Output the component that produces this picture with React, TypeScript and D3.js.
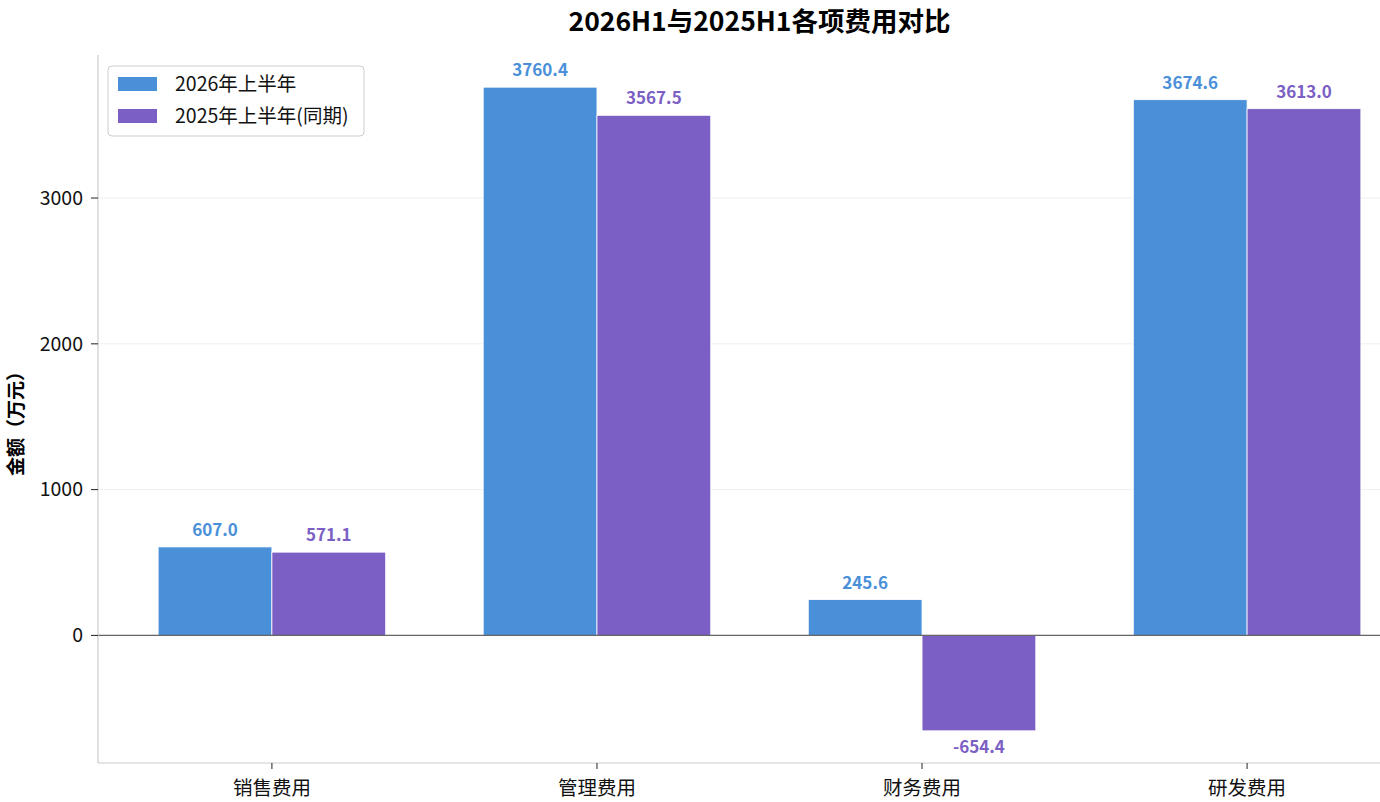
import * as d3 from 'd3'

const categories = ['销售费用', '管理费用', '财务费用', '研发费用']
const seriesNames = ['2026年上半年', '2025年上半年(同期)']
const current = [607.0, 3760.4, 245.6, 3674.6]
const previous = [571.1, 3567.5, -654.4, 3613.0]
const colors = ['#4A90D9', '#7B5FC4']
const yTicks = [0, 1000, 2000, 3000]

const W = 1380
const H = 802
const FONT = '"Noto Sans CJK SC", "Noto Sans", sans-serif'

export default function App() {
  const left = 98
  const right = 1421
  const top = 55
  const bottom = 763

  const barW = 0.35
  // matplotlib-style 5% margins
  const xMin = -barW - 0.185
  const xMax = categories.length - 1 + barW + 0.185
  const x = d3.scaleLinear().domain([xMin, xMax]).range([left, right])

  const all = [...current, ...previous]
  const lo = Math.min(0, d3.min(all)!)
  const hi = d3.max(all)!
  const pad = (hi - lo) * 0.05
  const y = d3.scaleLinear().domain([lo - pad, hi + pad]).range([bottom, top])

  const series = [current, previous]
  const bw = x(barW) - x(0)

  return (
    <div style={{ position: 'absolute', left: 0, top: 0 }}>
      <svg width={W} height={H} style={{ display: 'block', fontFamily: FONT }}>
        <rect width={W} height={H} fill="#fff" />
        <text x={(left + right) / 2} y={31} textAnchor="middle" fontSize={26.5} fontWeight="bold" fill="#000">
          2026H1与2025H1各项费用对比
        </text>

        {/* grid */}
        {yTicks.map((t) => (
          <line key={t} x1={left} x2={right} y1={y(t)} y2={y(t)} stroke="#ebebeb" strokeWidth={0.8} />
        ))}

        {/* bars */}
        {series.map((vals, si) =>
          vals.map((v, i) => {
            const x0 = si === 0 ? x(i - barW) : x(i)
            const y0 = Math.min(y(v), y(0))
            const h = Math.abs(y(v) - y(0))
            return (
              <rect
                key={`${si}-${i}`}
                x={x0}
                y={y0}
                width={bw}
                height={h}
                fill={colors[si]}
                stroke="#fff"
                strokeWidth={0.8}
              />
            )
          })
        )}

        {/* zero line */}
        <line x1={left} x2={right} y1={y(0)} y2={y(0)} stroke="#666" strokeWidth={1.3} />

        {/* value labels */}
        {series.map((vals, si) =>
          vals.map((v, i) => {
            const cx = (si === 0 ? x(i - barW) : x(i)) + bw / 2
            const ly = v >= 0 ? y(v) - 11 : y(v) + 22
            return (
              <text
                key={`l-${si}-${i}`}
                x={cx}
                y={ly}
                textAnchor="middle"
                fontSize={17}
                fontWeight="bold"
                fill={colors[si]}
              >
                {v.toFixed(1)}
              </text>
            )
          })
        )}

        {/* spines */}
        <line x1={left} x2={left} y1={top} y2={bottom} stroke="#ccc" strokeWidth={1.2} />
        <line x1={left} x2={right} y1={bottom} y2={bottom} stroke="#ccc" strokeWidth={1.2} />

        {/* y ticks */}
        {yTicks.map((t) => (
          <g key={`yt-${t}`}>
            <line x1={left - 7} x2={left} y1={y(t)} y2={y(t)} stroke="#222" strokeWidth={1} />
            <text x={left - 15} y={y(t)} dy="0.35em" textAnchor="end" fontSize={19.5} fill="#111">
              {t}
            </text>
          </g>
        ))}

        {/* x ticks */}
        {categories.map((c, i) => (
          <g key={c}>
            <line x1={x(i)} x2={x(i)} y1={bottom} y2={bottom + 6} stroke="#222" strokeWidth={1} />
            <text x={x(i)} y={bottom + 25} dy="0.35em" textAnchor="middle" fontSize={19.5} fill="#111">
              {c}
            </text>
          </g>
        ))}

        <text
          transform={`translate(16,${(top + bottom) / 2 + 10}) rotate(-90)`}
          textAnchor="middle"
          dy="0.35em"
          fontSize={19}
          fontWeight="bold"
          fill="#000"
        >
          金额（万元）
        </text>

        {/* legend */}
        <g transform="translate(108,66)">
          <rect width={256} height={70} rx={4} fill="#fff" fillOpacity={0.85} stroke="#ccc" strokeWidth={1} />
          {seriesNames.map((n, i) => (
            <g key={n} transform={`translate(10,${18 + i * 32})`}>
              <rect x={0} y={-7} width={39} height={14} fill={colors[i]} />
              <text x={57} y={0} dy="0.35em" fontSize={19.5} fill="#111">
                {n}
              </text>
            </g>
          ))}
        </g>
      </svg>
    </div>
  )
}
